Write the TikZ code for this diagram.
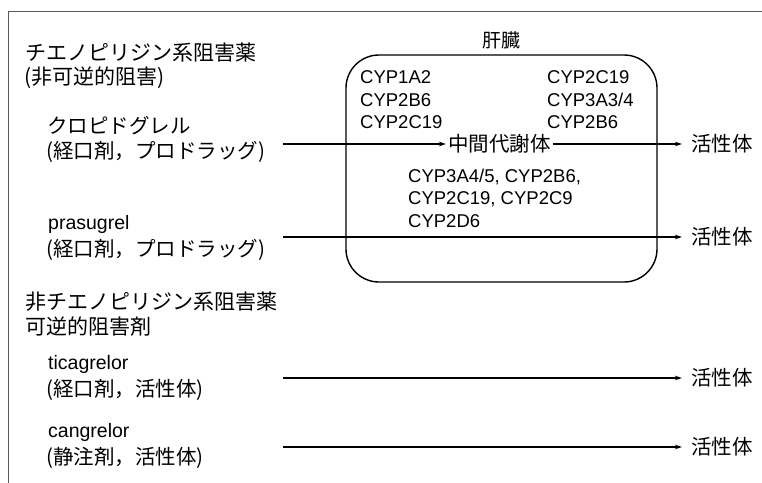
\documentclass[tikz,border=0pt]{standalone}
\usepackage{fontspec}
\setmainfont{Liberation Sans}
\newfontfamily\jp{Noto Sans CJK JP}
\usetikzlibrary{arrows.meta}
\begin{document}
\begin{tikzpicture}[x=1pt,y=-1pt,
  jtitle/.style={anchor=west,inner sep=0pt,font=\jp\fontsize{21}{25}\selectfont},
  jtext/.style={anchor=west,inner sep=0pt,font=\jp\fontsize{20.5}{24}\selectfont},
  ltext/.style={anchor=west,inner sep=0pt,font=\fontsize{19.5}{23}\selectfont},
  cyp/.style={anchor=west,inner sep=0pt,align=left,font=\fontsize{18.5}{22.5}\selectfont},
  conn/.style={line width=1.1pt,-{Stealth[length=7pt,width=4.5pt]}},
  organ/.style={draw,line width=1.4pt,rounded corners=33pt,inner sep=0pt},
]
\useasboundingbox (0,0) rectangle (762,482);
% outer frame (cropped on right and bottom)
\draw[line width=0.8pt,black!65] (775,11) -- (8,11) -- (8,495);

% liver box
\node[organ,minimum width=311pt,minimum height=227pt] (liver) at (501.5,168.5) {};
\node[inner sep=0pt,font=\jp\fontsize{19}{22}\selectfont] (liverlabel) at (501,40) {肝臓};

% left column texts
\node[jtitle] (t1) at (25,53) {チエノピリジン系阻害薬};
\node[jtitle] (t1b) at (24,78) {(非可逆的阻害)};
\node[jtext] (d1) at (47,126) {クロピドグレル};
\node[jtext] (d1b) at (46,152) {(経口剤，プロドラッグ)};
\node[ltext] (d2) at (48,224) {prasugrel};
\node[jtext] (d2b) at (46,250) {(経口剤，プロドラッグ)};
\node[jtitle] (t2) at (25,302) {非チエノピリジン系阻害薬};
\node[jtitle] (t2b) at (25,327) {可逆的阻害剤};
\node[ltext] (d3) at (48,364) {ticagrelor};
\node[jtext] (d3b) at (46,390) {(経口剤，活性体)};
\node[ltext] (d4) at (48,432) {cangrelor};
\node[jtext] (d4b) at (46,458) {(静注剤，活性体)};

% CYP lists
\node[cyp] (cypA) at (360,100) {CYP1A2\\CYP2B6\\CYP2C19};
\node[cyp] (cypB) at (547,100) {CYP2C19\\CYP3A3/4\\CYP2B6};
\node[cyp] (cypC) at (408,198) {CYP3A4/5, CYP2B6,\\CYP2C19, CYP2C9\\CYP2D6};

% intermediate and active forms
\node[jtext] (mid) at (448,144) {中間代謝体};
\node[jtext] (a1) at (691,144) {活性体};
\node[jtext] (a2) at (691,237) {活性体};
\node[jtext] (a3) at (691,378) {活性体};
\node[jtext] (a4) at (691,447) {活性体};

% arrow start points
\coordinate (s1) at (283,144);
\coordinate (s2) at (283,237);
\coordinate (s3) at (283,378);
\coordinate (s4) at (283,447);

\draw[conn,shorten >=2pt] (s1) -- (mid.west);
\draw[conn,shorten <=2pt,shorten >=9pt] (mid.east) -- (a1.west);
\draw[conn,shorten >=9pt] (s2) -- (a2.west);
\draw[conn,shorten >=9pt] (s3) -- (a3.west);
\draw[conn,shorten >=9pt] (s4) -- (a4.west);
\end{tikzpicture}
\end{document}
